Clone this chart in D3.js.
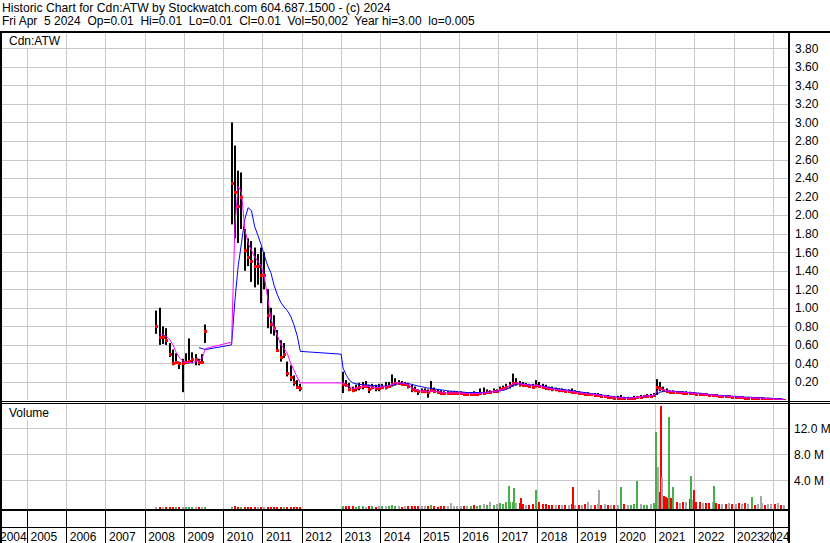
<!DOCTYPE html>
<html>
<head>
<meta charset="utf-8">
<script src="https://cdn.jsdelivr.net/npm/d3@7"></script>
<style>
  body { margin: 0; background: #fff; }
  svg { display: block; font-family: "Liberation Sans", Arial, sans-serif; font-size: 12px; }
</style>
</head>
<body>
<svg id="chart" width="830" height="543"></svg>
<script>
// ---- data (monthly bars, one gap point for 2012) ----
const dates = [
  "2008-04-15","2008-05-15","2008-06-15","2008-07-15","2008-08-15","2008-09-15","2008-10-15","2008-11-15","2008-12-15",
  "2009-01-15","2009-02-15","2009-03-15","2009-04-15","2009-05-15","2009-06-15","2009-07-15",
  "2010-03-15","2010-04-15","2010-05-15","2010-06-15","2010-07-15","2010-08-15","2010-09-15","2010-10-15","2010-11-15","2010-12-15",
  "2011-01-15","2011-02-15","2011-03-15","2011-04-15","2011-05-15","2011-06-15","2011-07-15","2011-08-15","2011-09-15","2011-10-15","2011-11-15","2011-12-15",
  "2012-12-28",
  "2013-01-15","2013-02-15","2013-03-15","2013-04-15","2013-05-15","2013-06-15","2013-07-15","2013-08-15","2013-09-15","2013-10-15","2013-11-15","2013-12-15",
  "2014-01-15","2014-02-15","2014-03-15","2014-04-15","2014-05-15","2014-06-15","2014-07-15","2014-08-15","2014-09-15","2014-10-15","2014-11-15","2014-12-15",
  "2015-01-15","2015-02-15","2015-03-15","2015-04-15","2015-05-15","2015-06-15","2015-07-15","2015-08-15","2015-09-15","2015-10-15","2015-11-15","2015-12-15",
  "2016-01-15","2016-02-15","2016-03-15","2016-04-15","2016-05-15","2016-06-15","2016-07-15","2016-08-15","2016-09-15","2016-10-15","2016-11-15","2016-12-15",
  "2017-01-15","2017-02-15","2017-03-15","2017-04-15","2017-05-15","2017-06-15","2017-07-15","2017-08-15","2017-09-15","2017-10-15","2017-11-15","2017-12-15",
  "2018-01-15","2018-02-15","2018-03-15","2018-04-15","2018-05-15","2018-06-15","2018-07-15","2018-08-15","2018-09-15","2018-10-15","2018-11-15","2018-12-15",
  "2019-01-15","2019-02-15","2019-03-15","2019-04-15","2019-05-15","2019-06-15","2019-07-15","2019-08-15","2019-09-15","2019-10-15","2019-11-15","2019-12-15",
  "2020-01-15","2020-02-15","2020-03-15","2020-04-15","2020-05-15","2020-06-15","2020-07-15","2020-08-15","2020-09-15","2020-10-15","2020-11-15","2020-12-15",
  "2021-01-15","2021-02-15","2021-03-15","2021-04-15","2021-05-15","2021-06-15","2021-07-15","2021-08-15","2021-09-15","2021-10-15","2021-11-15","2021-12-15",
  "2022-01-15","2022-02-15","2022-03-15","2022-04-15","2022-05-15","2022-06-15","2022-07-15","2022-08-15","2022-09-15","2022-10-15","2022-11-15","2022-12-15",
  "2023-01-15","2023-02-15","2023-03-15","2023-04-15","2023-05-15","2023-06-15","2023-07-15","2023-08-15","2023-09-15","2023-10-15","2023-11-15","2023-12-15",
  "2024-01-15","2024-02-15","2024-03-15","2024-04-05"
];

const high = [
  0.97,1.00,0.80,0.78,0.62,0.55,0.51,0.42,0.45, 0.51,0.67,0.52,0.50,0.45,0.50,0.82,
  3.00,2.75,2.48,2.46,1.85,1.75,1.72,1.65,1.58,1.65,
  1.60,1.20,1.00,0.92,0.76,0.65,0.62,0.42,0.38,0.27,0.22,0.18,
  null,
  0.31,0.22,0.19,0.15,0.17,0.19,0.20,0.21,0.17,0.18,0.17,0.18,
  0.18,0.20,0.20,0.28,0.24,0.22,0.21,0.20,0.19,0.17,0.15,0.12,
  0.13,0.13,0.12,0.21,0.14,0.12,0.11,0.10,0.10,0.10,0.10,0.10,
  0.10,0.09,0.09,0.09,0.10,0.09,0.13,0.14,0.12,0.11,0.13,0.12,
  0.15,0.16,0.18,0.20,0.29,0.24,0.21,0.20,0.19,0.18,0.18,0.22,
  0.20,0.18,0.17,0.15,0.15,0.14,0.13,0.13,0.12,0.12,0.13,0.11,
  0.10,0.09,0.09,0.09,0.08,0.08,0.08,0.07,0.06,0.06,0.05,0.05,
  0.05,0.06,0.04,0.04,0.035,0.05,0.05,0.06,0.06,0.07,0.07,0.08,
  0.23,0.20,0.15,0.13,0.11,0.11,0.10,0.10,0.10,0.10,0.095,0.09,
  0.085,0.08,0.08,0.075,0.07,0.07,0.065,0.06,0.06,0.055,0.05,0.05,
  0.05,0.045,0.045,0.04,0.04,0.035,0.035,0.035,0.03,0.03,0.03,0.025,
  0.025,0.02,0.02,0.015
];

const low = [
  0.72,0.60,0.61,0.60,0.47,0.38,0.41,0.34,0.09, 0.41,0.40,0.40,0.38,0.38,0.40,0.62,
  1.90,1.75,1.70,1.85,1.40,1.45,1.28,1.22,1.25,1.05,
  1.20,0.78,0.72,0.70,0.54,0.42,0.46,0.26,0.21,0.16,0.13,0.10,
  null,
  0.08,0.15,0.10,0.09,0.10,0.11,0.12,0.14,0.08,0.12,0.10,0.10,
  0.13,0.12,0.14,0.15,0.16,0.17,0.16,0.16,0.13,0.09,0.09,0.06,
  0.08,0.09,0.03,0.09,0.08,0.07,0.07,0.07,0.07,0.07,0.07,0.07,
  0.07,0.06,0.06,0.06,0.06,0.06,0.07,0.07,0.07,0.08,0.08,0.09,
  0.10,0.11,0.12,0.13,0.15,0.16,0.15,0.15,0.15,0.14,0.13,0.14,
  0.14,0.13,0.12,0.11,0.10,0.10,0.09,0.09,0.09,0.08,0.08,0.07,
  0.07,0.07,0.06,0.06,0.06,0.05,0.05,0.04,0.04,0.03,0.03,0.02,
  0.02,0.02,0.015,0.015,0.015,0.02,0.03,0.03,0.035,0.04,0.04,0.04,
  0.06,0.10,0.09,0.09,0.08,0.08,0.08,0.08,0.075,0.075,0.07,0.07,
  0.065,0.06,0.06,0.055,0.05,0.05,0.045,0.04,0.04,0.04,0.035,0.035,
  0.03,0.03,0.025,0.025,0.025,0.02,0.02,0.02,0.02,0.015,0.015,0.015,
  0.01,0.01,0.01,0.005
];

const close = [
  0.80,0.68,0.68,0.65,0.50,0.40,0.42,0.40,0.40, 0.42,0.43,0.45,0.45,0.42,0.42,0.75,
  2.35,2.25,2.10,2.20,1.62,1.55,1.50,1.45,1.45,1.35,
  1.35,0.92,0.82,0.78,0.55,0.47,0.50,0.30,0.25,0.20,0.15,0.13,
  null,
  0.18,0.17,0.12,0.11,0.13,0.15,0.16,0.16,0.12,0.15,0.14,0.14,
  0.15,0.15,0.16,0.18,0.19,0.19,0.18,0.18,0.16,0.12,0.11,0.10,
  0.10,0.10,0.09,0.11,0.10,0.09,0.085,0.08,0.08,0.08,0.08,0.08,
  0.08,0.07,0.07,0.075,0.07,0.075,0.08,0.08,0.09,0.09,0.10,0.10,
  0.12,0.13,0.15,0.17,0.19,0.19,0.18,0.17,0.17,0.16,0.15,0.17,
  0.16,0.15,0.14,0.13,0.12,0.12,0.11,0.11,0.10,0.10,0.09,0.09,
  0.08,0.08,0.07,0.07,0.07,0.06,0.06,0.05,0.05,0.04,0.04,0.03,
  0.03,0.03,0.02,0.02,0.025,0.03,0.04,0.04,0.045,0.05,0.05,0.055,
  0.15,0.14,0.11,0.10,0.095,0.095,0.09,0.09,0.085,0.085,0.08,0.08,
  0.075,0.07,0.07,0.065,0.06,0.06,0.055,0.05,0.05,0.045,0.045,0.04,
  0.04,0.035,0.035,0.03,0.03,0.03,0.025,0.025,0.025,0.02,0.02,0.02,
  0.015,0.015,0.01,0.01
];

// short moving average (magenta)
const maShort = [
  null,0.72,0.71,0.69,0.66,0.60,0.52,0.46,0.43, 0.41,0.41,0.41,0.42,0.43,0.46,0.56,
  0.63,1.90,2.31,2.25,1.85,1.70,1.62,1.55,1.50,1.45,
  1.32,1.10,0.88,0.78,0.70,0.60,0.56,0.51,0.40,0.33,0.25,0.19,
  0.19,
  0.19,0.17,0.15,0.13,0.13,0.14,0.15,0.16,0.15,0.14,0.14,0.14,
  0.15,0.15,0.16,0.17,0.19,0.19,0.19,0.18,0.17,0.14,0.12,0.11,
  0.10,0.10,0.10,0.10,0.10,0.095,0.09,0.085,0.08,0.08,0.08,0.08,
  0.08,0.08,0.075,0.075,0.075,0.075,0.08,0.08,0.085,0.09,0.095,0.10,
  0.11,0.12,0.14,0.16,0.18,0.19,0.185,0.175,0.17,0.165,0.16,0.165,
  0.16,0.15,0.14,0.13,0.125,0.12,0.115,0.11,0.105,0.10,0.095,0.09,
  0.085,0.08,0.075,0.07,0.07,0.065,0.06,0.055,0.05,0.045,0.04,0.035,
  0.03,0.03,0.025,0.025,0.025,0.03,0.035,0.04,0.045,0.05,0.05,0.055,
  0.10,0.13,0.12,0.105,0.10,0.095,0.09,0.09,0.085,0.085,0.08,0.08,
  0.075,0.07,0.07,0.065,0.06,0.06,0.055,0.05,0.05,0.045,0.045,0.04,
  0.04,0.035,0.035,0.03,0.03,0.03,0.025,0.025,0.025,0.02,0.02,0.02,
  0.015,0.015,0.012,0.01
];

// long moving average (blue)
const maLong = [
  null,null,null,null,null,null,null,null,null, null,null,null,null,0.57,0.56,0.55,
  0.60,1.08,1.45,1.70,1.95,2.08,2.05,1.88,1.78,1.68,
  1.56,1.45,1.38,1.24,1.14,1.06,1.01,0.97,0.91,0.82,0.70,0.53,
  0.50,
  0.35,0.27,0.22,0.19,0.18,0.175,0.17,0.17,0.165,0.16,0.16,0.155,
  0.155,0.155,0.16,0.165,0.175,0.18,0.185,0.185,0.18,0.175,0.165,0.155,
  0.15,0.14,0.135,0.13,0.125,0.12,0.115,0.11,0.105,0.10,0.10,0.095,
  0.09,0.09,0.085,0.085,0.085,0.085,0.085,0.085,0.09,0.09,0.095,0.10,
  0.105,0.11,0.12,0.14,0.16,0.175,0.18,0.18,0.175,0.17,0.165,0.165,
  0.16,0.155,0.15,0.14,0.135,0.13,0.125,0.12,0.115,0.11,0.105,0.10,
  0.095,0.09,0.085,0.08,0.075,0.07,0.065,0.06,0.055,0.05,0.045,0.04,
  0.035,0.035,0.03,0.03,0.03,0.03,0.035,0.04,0.045,0.05,0.05,0.055,
  0.07,0.09,0.10,0.10,0.10,0.10,0.095,0.095,0.09,0.09,0.085,0.085,
  0.08,0.08,0.075,0.07,0.065,0.065,0.06,0.055,0.055,0.05,0.05,0.045,
  0.045,0.04,0.04,0.035,0.035,0.035,0.03,0.03,0.03,0.025,0.025,0.025,
  0.02,0.02,0.02,0.015
];

// typical daily volume for the month, millions
const volume = [
  0.15,0.2,0.1,0.15,0.2,0.1,0.15,0.1,0.2, 0.1,0.15,0.1,0.1,0.15,0.1,0.2,
  0.2,0.25,0.2,0.15,0.2,0.15,0.15,0.2,0.15,0.2,
  0.15,0.2,0.15,0.15,0.2,0.15,0.1,0.2,0.15,0.2,0.15,0.1,
  null,
  0.35,0.3,0.25,0.3,0.2,0.3,0.25,0.2,0.3,0.25,0.2,0.3,
  0.3,0.25,0.35,0.45,0.3,0.25,0.2,0.3,0.25,0.35,0.3,0.25,
  0.3,0.25,0.35,0.4,0.3,0.2,0.3,0.25,0.3,0.8,0.3,0.25,
  0.3,0.25,0.35,0.3,0.4,0.3,0.5,0.6,0.5,0.85,0.5,0.6,
  0.7,0.6,0.9,1.0,0.9,0.8,0.7,0.6,0.5,0.5,0.6,0.7,
  0.85,0.6,0.6,0.5,0.4,0.4,0.4,0.4,0.5,0.5,0.6,0.5,
  0.5,0.5,0.6,0.85,0.5,0.5,0.6,0.5,0.6,0.5,0.5,0.4,
  0.5,0.6,0.6,0.5,0.5,0.6,0.7,0.6,0.5,0.5,0.6,0.8,
  2.0,2.5,1.6,1.5,1.3,1.2,1.0,0.8,0.9,1.0,1.4,1.2,
  1.0,0.9,0.8,0.8,0.7,0.9,0.7,0.6,0.6,0.6,0.7,0.6,
  0.6,0.7,0.6,0.8,0.6,0.9,0.5,0.6,0.7,0.5,0.6,0.6,
  0.6,0.7,0.5,0.4
];

// single heavy-volume days, millions
const spikeDates = ["2017-04-06","2017-05-28","2017-07-31","2017-12-15","2018-11-26","2019-07-22","2020-02-16","2020-07-08",
  "2021-01-06","2021-01-24","2021-02-17","2021-03-03","2021-03-20","2021-04-10","2021-05-06","2021-05-25","2021-06-12",
  "2021-11-28","2021-12-24","2022-06-26","2023-06-14","2023-09-13"];
const spikeVols = [3.15,2.8,1.3,2.5,3.0,2.5,3.0,4.0, 11.4,6.1,15.4,4.6,1.6,1.4,13.8,1.3,2.95, 4.7,2.6,3.15,1.5,1.6];
const spikeDirs = ["u","u","d","u","d","n","u","u", "u","n","d","n","d","d","u","d","u", "u","d","u","u","n"];

const priceTicks = [0.2,0.4,0.6,0.8,1.0,1.2,1.4,1.6,1.8,2.0,2.2,2.4,2.6,2.8,3.0,3.2,3.4,3.6,3.8];
const volTicks = [4,8,12];
const years = d3.range(2004, 2025);

const titleLine1 = "Historic Chart for Cdn:ATW by Stockwatch.com 604.687.1500 - (c) 2024";
const titleLine2 = "Fri Apr  5 2024  Op=0.01  Hi=0.01  Lo=0.01  Cl=0.01  Vol=50,002  Year hi=3.00  lo=0.005";

// ---- layout ----
const plotL = 2, plotR = 788;
const priceTop = 33, priceBot = 400;
const volTop = 404, volBot = 509;
const colUp = "#48b048", colDown = "#ff0000", colFlat = "#a8a8a8", gridCol = "#c8c8c8";

const parse = d3.timeParse("%Y-%m-%d");
const rows = dates.map((d, i) => ({
  date: parse(d), hi: high[i], lo: low[i], cl: close[i],
  ma1: maShort[i], ma2: maLong[i], vol: volume[i]
}));
let prev = null;
rows.forEach(r => {
  if (r.cl == null) return;
  r.dir = prev == null ? "n" : (r.cl > prev ? "u" : r.cl < prev ? "d" : "n");
  prev = r.cl;
});
const spikes = spikeDates.map((d, i) => ({ date: parse(d), vol: spikeVols[i], dir: spikeDirs[i] }));
const dirColor = { u: colUp, d: colDown, n: colFlat };

const x = d3.scaleTime()
  .domain([new Date(2005, 0, 1), new Date(2024, 0, 1)])
  .range([27.5, 773.3]);
const y = d3.scaleLinear().domain([0, 3.8]).range([400.5, 48.3]);
const yv = d3.scaleLinear().domain([0, 12]).range([506.5, 428.5]);

const svg = d3.select("#chart");
svg.append("rect").attr("width", 830).attr("height", 543).attr("fill", "#fff");

// header
svg.append("text").attr("x", 2).attr("y", 12).attr("fill", "#000").attr("font-size", 12.2).text(titleLine1);
svg.append("text").attr("x", 2).attr("y", 25).attr("fill", "#000")
  .style("white-space", "pre").text(titleLine2);

const defs = svg.append("defs");
defs.append("clipPath").attr("id", "clipPrice").append("rect")
  .attr("x", plotL).attr("y", priceTop).attr("width", plotR - plotL).attr("height", priceBot - priceTop);
defs.append("clipPath").attr("id", "clipVol").append("rect")
  .attr("x", plotL).attr("y", volTop).attr("width", plotR - plotL).attr("height", volBot - volTop);

const yearStarts = years.map(yr => ({ yr, x: x(new Date(yr, 0, 1)) }));

// grid
const grid = svg.append("g").attr("stroke", gridCol).attr("stroke-width", 1).attr("shape-rendering", "crispEdges");
yearStarts.filter(d => d.x > plotL && d.x < plotR).forEach(d => {
  const gx = Math.floor(d.x) + 0.5;
  grid.append("line").attr("x1", gx).attr("x2", gx).attr("y1", priceTop).attr("y2", priceBot);
  grid.append("line").attr("x1", gx).attr("x2", gx).attr("y1", volTop).attr("y2", volBot);
});
priceTicks.forEach(v => {
  const gy = Math.round(y(v)) + 0.5;
  grid.append("line").attr("x1", plotL).attr("x2", plotR).attr("y1", gy).attr("y2", gy);
});
volTicks.forEach(v => {
  const gy = Math.floor(yv(v)) + 0.5;
  grid.append("line").attr("x1", plotL).attr("x2", plotR).attr("y1", gy).attr("y2", gy);
});

// price bars
const price = svg.append("g").attr("clip-path", "url(#clipPrice)");
const bars = rows.filter(r => r.hi != null);
price.append("g").attr("fill", "#000").selectAll("rect").data(bars).join("rect")
  .attr("x", d => Math.round(x(d.date)) - 1)
  .attr("y", d => y(d.hi))
  .attr("width", 2)
  .attr("height", d => Math.max(1, y(d.lo) - y(d.hi)));
price.append("g").attr("fill", "#ff0000").selectAll("rect").data(bars).join("rect")
  .attr("x", d => Math.round(x(d.date)) - 1)
  .attr("y", d => Math.round(y(d.cl)) - 1)
  .attr("width", 3).attr("height", 3);

const lineLong = d3.line().defined(d => d.ma2 != null).x(d => x(d.date)).y(d => y(d.ma2));
const lineShort = d3.line().defined(d => d.ma1 != null).x(d => x(d.date)).y(d => y(d.ma1));
price.append("path").datum(rows).attr("d", lineLong)
  .attr("fill", "none").attr("stroke", "#0000ff").attr("stroke-width", 1);
price.append("path").datum(rows).attr("d", lineShort)
  .attr("fill", "none").attr("stroke", "#ff00ff").attr("stroke-width", 1);

// volume bars (base bars start at the pane floor, at least 1px tall)
const vol = svg.append("g").attr("clip-path", "url(#clipVol)").attr("shape-rendering", "crispEdges");
const baseH = v => Math.max(1, yv(0) - yv(v)) + 1;
vol.selectAll("rect.base").data(rows.filter(r => r.vol != null)).join("rect")
  .attr("class", "base")
  .attr("x", d => Math.round(x(d.date)) - 1)
  .attr("y", d => volBot - baseH(d.vol))
  .attr("width", 2)
  .attr("height", d => baseH(d.vol))
  .attr("fill", d => dirColor[d.dir]);
vol.selectAll("rect.spike").data(spikes).join("rect")
  .attr("class", "spike")
  .attr("x", d => Math.round(x(d.date)) - 1)
  .attr("y", d => yv(d.vol))
  .attr("width", 2)
  .attr("height", d => volBot - yv(d.vol))
  .attr("fill", d => dirColor[d.dir]);

// pane labels
svg.append("rect").attr("x", plotL).attr("y", priceTop).attr("width", 64).attr("height", 15).attr("fill", "#fff");
svg.append("text").attr("x", 9).attr("y", 45).text("Cdn:ATW");
svg.append("rect").attr("x", plotL).attr("y", volTop + 1).attr("width", 52).attr("height", 15).attr("fill", "#fff");
svg.append("text").attr("x", 9).attr("y", 417).text("Volume");

// right axes
const yAxis = d3.axisRight(y).tickValues(priceTicks).tickFormat(d3.format(".2f")).tickSize(0).tickPadding(0);
const ga = svg.append("g").attr("transform", "translate(795,0)").call(yAxis);
const vAxis = d3.axisRight(yv).tickValues(volTicks).tickFormat(d => d.toFixed(1) + " M").tickSize(0).tickPadding(0);
const gv = svg.append("g").attr("transform", "translate(794,0)").call(vAxis);
[ga, gv].forEach(g => {
  g.select(".domain").remove();
  g.attr("font-size", 12).attr("font-family", null);
  g.selectAll("text").attr("fill", "#000");
});

// frame lines
const frame = svg.append("g").attr("fill", "#000").attr("shape-rendering", "crispEdges");
frame.append("rect").attr("x", 0).attr("y", 31).attr("width", 830).attr("height", 2);
frame.append("rect").attr("x", 0).attr("y", 31).attr("width", 2).attr("height", 512);
frame.append("rect").attr("x", plotR).attr("y", 31).attr("width", 2).attr("height", 512);
frame.append("rect").attr("x", 0).attr("y", 401).attr("width", 830).attr("height", 1);
frame.append("rect").attr("x", 0).attr("y", 403).attr("width", 830).attr("height", 1);
frame.append("rect").attr("x", 0).attr("y", volBot).attr("width", plotR + 2).attr("height", 2);
frame.append("rect").attr("x", 0).attr("y", 527).attr("width", plotR + 2).attr("height", 1);
yearStarts.filter(d => d.x > plotL && d.x < plotR).forEach(d => {
  frame.append("rect").attr("x", Math.floor(d.x)).attr("y", volBot).attr("width", 1).attr("height", 543 - volBot);
});

// year labels along the bottom, kept inside the plot width
svg.append("g").selectAll("text").data(yearStarts).join("text")
  .attr("x", d => Math.max(0, Math.min(d.x + 3, 763)))
  .attr("y", 541)
  .attr("fill", "#000")
  .text(d => d.yr);
</script>
</body>
</html>
